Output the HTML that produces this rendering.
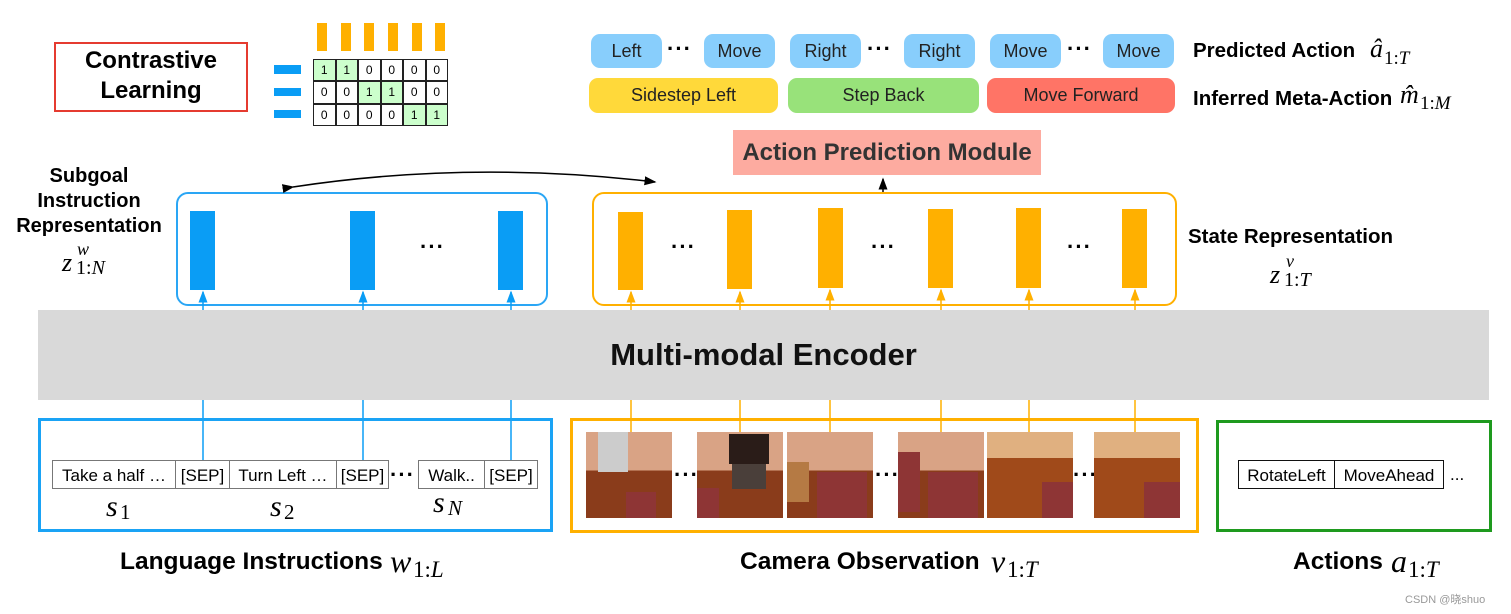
<!DOCTYPE html>
<html><head><meta charset="utf-8"><style>
body{margin:0;width:1511px;height:614px;background:#fff;position:relative;overflow:hidden;font-family:"Liberation Sans",sans-serif}
.a{position:absolute}
.b{font-weight:bold}
.pill{position:absolute;border-radius:9px;text-align:center;font-size:18px;color:#222}
.abt{background:#88CEFC;top:34px;height:34px;line-height:34px;width:71px}
.met{top:78px;height:35px;line-height:35px}
.bar{position:absolute;width:25px}
.bl{background:#0A9DF5}
.or{background:#FFB000}
.dots{position:absolute;font-size:22px;font-weight:bold;letter-spacing:1px}
.m{position:absolute;font-family:"Liberation Serif",serif;font-style:italic;line-height:1;white-space:nowrap}
.n{font-style:normal}
.tb{position:absolute;top:460px;height:29px;line-height:29px;border:1.5px solid #777;font-size:17px;text-align:center;box-sizing:border-box;background:#fff}
.img{position:absolute;top:432px;width:86px;height:86px;background:linear-gradient(#D9A385 0 45%,#8A3C1B 45% 100%);overflow:hidden}
.img i{position:absolute;background:#8E3535}
.cell{position:absolute;width:22.5px;height:22.3px;border:1px solid #222;box-sizing:border-box;font-size:12px;text-align:center;line-height:20px}
</style></head><body>

<div class="a b" style="left:54px;top:42px;width:190px;height:64px;border:2px solid #E53B30;font-size:24px;text-align:center;line-height:30px;padding-top:2px">Contrastive<br>Learning</div>
<div class="a or" style="left:317px;top:23px;width:10px;height:28px"></div>
<div class="a or" style="left:341px;top:23px;width:10px;height:28px"></div>
<div class="a or" style="left:364px;top:23px;width:10px;height:28px"></div>
<div class="a or" style="left:388px;top:23px;width:10px;height:28px"></div>
<div class="a or" style="left:412px;top:23px;width:10px;height:28px"></div>
<div class="a or" style="left:435px;top:23px;width:10px;height:28px"></div>
<div class="a bl" style="left:274px;top:65px;width:27px;height:9px"></div>
<div class="a bl" style="left:274px;top:88px;width:27px;height:8px"></div>
<div class="a bl" style="left:274px;top:110px;width:27px;height:8px"></div>
<div id="tbl"></div>
<script>
var g=[[1,1,0,0,0,0],[0,0,1,1,0,0],[0,0,0,0,1,1]],h='';
for(var r=0;r<3;r++)for(var c=0;c<6;c++){h+='<div class="cell" style="left:'+(313+c*22.5)+'px;top:'+(59+r*22.3)+'px;background:'+(g[r][c]?'#CCFFCC':'#fff')+'">'+g[r][c]+'</div>';}
document.getElementById('tbl').innerHTML=h;
</script>

<div class="pill abt" style="left:591px">Left</div>
<div class="dots" style="left:667px;top:36px">···</div>
<div class="pill abt" style="left:704px">Move</div>
<div class="pill abt" style="left:790px">Right</div>
<div class="dots" style="left:867px;top:36px">···</div>
<div class="pill abt" style="left:904px">Right</div>
<div class="pill abt" style="left:990px">Move</div>
<div class="dots" style="left:1067px;top:36px">···</div>
<div class="pill abt" style="left:1103px">Move</div>
<div class="a b" style="left:1193px;top:39px;font-size:20.5px">Predicted Action</div>
<div class="m" style="left:1370px;top:36px;font-size:26px">â</div>
<div class="m" style="left:1384px;top:49px;font-size:19px"><span class="n">1:</span>T</div>

<div class="pill met" style="left:589px;width:189px;background:#FFD93A">Sidestep Left</div>
<div class="pill met" style="left:788px;width:191px;background:#98E27A">Step Back</div>
<div class="pill met" style="left:987px;width:188px;background:#FF7466">Move Forward</div>
<div class="a b" style="left:1193px;top:87px;font-size:20.5px">Inferred Meta-Action</div>
<div class="m" style="left:1400px;top:82px;font-size:26px">m̂</div>
<div class="m" style="left:1420px;top:94px;font-size:19px"><span class="n">1:</span>M</div>

<div class="a b" style="left:733px;top:130px;width:308px;height:45px;background:#FDABA0;color:#333;font-size:24px;text-align:center;line-height:45px">Action Prediction Module</div>

<div class="a" style="left:176px;top:192px;width:368px;height:110px;border:2px solid #2AA6F5;border-radius:12px"></div>
<div class="bar bl" style="left:190px;top:211px;height:79px"></div>
<div class="bar bl" style="left:350px;top:211px;height:79px"></div>
<div class="bar bl" style="left:498px;top:211px;height:79px"></div>
<div class="dots" style="left:420px;top:234px">···</div>

<div class="a" style="left:592px;top:192px;width:581px;height:110px;border:2px solid #FFB000;border-radius:12px"></div>
<div class="bar or" style="left:618px;top:212px;height:78px"></div>
<div class="bar or" style="left:727px;top:210px;height:79px"></div>
<div class="bar or" style="left:818px;top:208px;height:80px"></div>
<div class="bar or" style="left:928px;top:209px;height:79px"></div>
<div class="bar or" style="left:1016px;top:208px;height:80px"></div>
<div class="bar or" style="left:1122px;top:209px;height:79px"></div>
<div class="dots" style="left:671px;top:234px">···</div>
<div class="dots" style="left:871px;top:234px">···</div>
<div class="dots" style="left:1067px;top:234px">···</div>

<div class="a b" style="left:5px;top:164px;width:168px;text-align:center;font-size:20px;line-height:25px">Subgoal<br>Instruction<br>Representation</div>
<div class="m" style="left:62px;top:250px;font-size:26px">z</div>
<div class="m" style="left:77px;top:240px;font-size:18px">w</div>
<div class="m" style="left:76px;top:258px;font-size:20px"><span class="n">1:</span>N</div>
<div class="a b" style="left:1188px;top:225px;font-size:20.5px">State Representation</div>
<div class="m" style="left:1270px;top:262px;font-size:26px">z</div>
<div class="m" style="left:1286px;top:252px;font-size:18px">v</div>
<div class="m" style="left:1284px;top:270px;font-size:20px"><span class="n">1:</span>T</div>

<div class="a b" style="left:38px;top:310px;width:1451px;height:90px;background:#D9D9D9;font-size:31px;text-align:center;line-height:90px;color:#111">Multi-modal Encoder</div>

<svg class="a" style="left:0;top:0" width="1511" height="614">
<defs>
<marker id="k" markerWidth="8" markerHeight="8" refX="7" refY="4" orient="auto"><path d="M0,1 L8,4 L0,7 z" fill="#000"/></marker>
<marker id="bm" markerWidth="8" markerHeight="8" refX="7" refY="4" orient="auto"><path d="M0,1 L8,4 L0,7 z" fill="#0A9DF5"/></marker>
<marker id="om" markerWidth="8" markerHeight="8" refX="7" refY="4" orient="auto"><path d="M0,1 L8,4 L0,7 z" fill="#FFB000"/></marker>
</defs>
<path d="M293,187 Q470,160 655,182" fill="none" stroke="#000" stroke-width="1.5" marker-start="url(#k)" marker-end="url(#k)"/>
<line x1="883" y1="192" x2="883" y2="179" stroke="#000" stroke-width="1.5" marker-end="url(#k)"/>
<g stroke="#0A9DF5" stroke-width="1.5">
<line x1="203" y1="310" x2="203" y2="292" marker-end="url(#bm)"/><line x1="363" y1="310" x2="363" y2="292" marker-end="url(#bm)"/><line x1="511" y1="310" x2="511" y2="292" marker-end="url(#bm)"/>
<line x1="203" y1="400" x2="203" y2="461"/><line x1="363" y1="400" x2="363" y2="461"/><line x1="511" y1="400" x2="511" y2="461"/>
</g>
<g stroke="#FFB000" stroke-width="1.5">
<line x1="631" y1="310" x2="631" y2="292" marker-end="url(#om)"/><line x1="740" y1="310" x2="740" y2="292" marker-end="url(#om)"/><line x1="830" y1="310" x2="830" y2="290" marker-end="url(#om)"/><line x1="941" y1="310" x2="941" y2="290" marker-end="url(#om)"/><line x1="1029" y1="310" x2="1029" y2="290" marker-end="url(#om)"/><line x1="1135" y1="310" x2="1135" y2="290" marker-end="url(#om)"/>
<line x1="631" y1="400" x2="631" y2="436"/><line x1="740" y1="400" x2="740" y2="436"/><line x1="830" y1="400" x2="830" y2="436"/><line x1="941" y1="400" x2="941" y2="436"/><line x1="1029" y1="400" x2="1029" y2="436"/><line x1="1135" y1="400" x2="1135" y2="436"/>
</g>
</svg>

<div class="a" style="left:38px;top:418px;width:509px;height:108px;border:3px solid #1AA3F5"></div>
<div class="tb" style="left:52px;width:124px">Take a half …</div>
<div class="tb" style="left:175px;width:55px">[SEP]</div>
<div class="tb" style="left:229px;width:108px">Turn Left …</div>
<div class="tb" style="left:336px;width:53px">[SEP]</div>
<div class="dots" style="left:390px;top:462px">···</div>
<div class="tb" style="left:418px;width:67px">Walk..</div>
<div class="tb" style="left:484px;width:54px">[SEP]</div>
<div class="m" style="left:106px;top:492px;font-size:30px">s</div><div class="m n" style="left:120px;top:502px;font-size:21px;font-style:normal">1</div>
<div class="m" style="left:270px;top:492px;font-size:30px">s</div><div class="m" style="left:284px;top:502px;font-size:21px;font-style:normal">2</div>
<div class="m" style="left:433px;top:488px;font-size:30px">s</div><div class="m" style="left:448px;top:498px;font-size:21px">N</div>

<div class="a" style="left:570px;top:418px;width:623px;height:109px;border:3px solid #FFB000"></div>
<div class="img" style="left:586px"><i style="left:12px;top:0;width:30px;height:40px;background:#ccc"></i><i style="left:40px;top:60px;width:30px;height:26px"></i></div>
<div class="dots" style="left:674px;top:462px">···</div>
<div class="img" style="left:697px"><i style="left:32px;top:2px;width:40px;height:30px;background:#2a1c18"></i><i style="left:35px;top:32px;width:34px;height:25px;background:#4a3f3a"></i><i style="left:0;top:56px;width:22px;height:30px"></i></div>
<div class="img" style="left:787px"><i style="left:30px;top:40px;width:50px;height:46px"></i><i style="left:0;top:30px;width:22px;height:40px;background:#b57a44"></i></div>
<div class="dots" style="left:875px;top:462px">···</div>
<div class="img" style="left:898px"><i style="left:30px;top:40px;width:50px;height:46px"></i><i style="left:0;top:20px;width:22px;height:60px"></i></div>
<div class="img" style="left:987px;background:linear-gradient(#E0B080 0 30%,#A04A1A 30%)"><i style="left:55px;top:50px;width:31px;height:36px"></i></div>
<div class="dots" style="left:1073px;top:462px">···</div>
<div class="img" style="left:1094px;background:linear-gradient(#E0B080 0 30%,#A04A1A 30%)"><i style="left:50px;top:50px;width:36px;height:36px"></i></div>

<div class="a" style="left:1216px;top:420px;width:270px;height:106px;border:3px solid #1E9A1E"></div>
<div class="tb" style="left:1238px;width:97px;border-color:#111">RotateLeft</div>
<div class="tb" style="left:1334px;width:110px;border-color:#111">MoveAhead</div>
<div class="a" style="left:1450px;top:465px;font-size:17px">...</div>

<div class="a b" style="left:120px;top:548px;font-size:24.5px">Language Instructions</div>
<div class="m" style="left:390px;top:545px;font-size:32px">w</div><div class="m" style="left:413px;top:558px;font-size:23px"><span class="n">1:</span>L</div>
<div class="a b" style="left:740px;top:548px;font-size:24.5px">Camera Observation</div>
<div class="m" style="left:991px;top:545px;font-size:32px">v</div><div class="m" style="left:1007px;top:558px;font-size:23px"><span class="n">1:</span>T</div>
<div class="a b" style="left:1293px;top:548px;font-size:24.5px">Actions</div>
<div class="m" style="left:1391px;top:545px;font-size:32px">a</div><div class="m" style="left:1408px;top:558px;font-size:23px"><span class="n">1:</span>T</div>
<div class="a" style="left:1405px;top:591px;font-size:11px;color:#999;font-family:'Liberation Sans','Noto Sans CJK SC',sans-serif">CSDN @晓shuo</div>
</body></html>
